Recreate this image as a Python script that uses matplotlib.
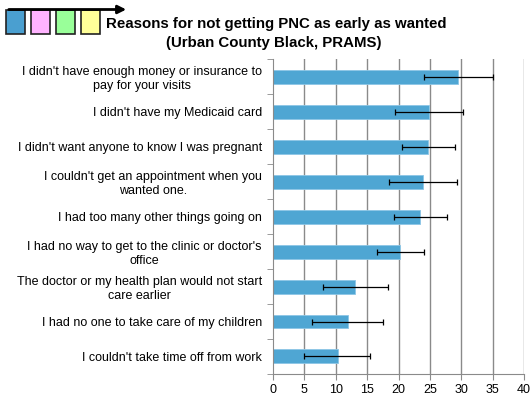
import matplotlib

matplotlib.use("Agg")
import matplotlib.pyplot as plt
from matplotlib.patches import Rectangle, FancyArrowPatch

plt.rcParams["font.family"] = ["Liberation Sans", "DejaVu Sans"]

reasons = [
    "I didn't have enough money or insurance to\npay for your visits",
    "I didn't have my Medicaid card",
    "I didn't want anyone to know I was pregnant",
    "I couldn't get an appointment when you\nwanted one.",
    "I had too many other things going on",
    "I had no way to get to the clinic or doctor's\noffice",
    "The doctor or my health plan would not start\ncare earlier",
    "I had no one to take care of my children",
    "I couldn't take time off from work",
]
percent = [29.5, 24.8, 24.7, 23.9, 23.5, 20.2, 13.1, 11.9, 10.3]
ci_low = [24.1, 19.4, 20.6, 18.5, 19.3, 16.5, 8.0, 6.2, 4.9]
ci_high = [35.0, 30.2, 29.0, 29.3, 27.7, 24.0, 18.3, 17.6, 15.5]

xticks = [0, 5, 10, 15, 20, 25, 30, 35, 40]

fig = plt.figure(figsize=(5.32, 3.97), dpi=100)
ax = fig.add_axes([0.5132, 0.058, 0.4718, 0.793])

pos = list(range(len(reasons)))
err = [
    [p - lo for p, lo in zip(percent, ci_low)],
    [hi - p for p, hi in zip(percent, ci_high)],
]

for x in xticks[1:]:
    ax.axvline(x, color="#8a8a8a", lw=1.0, zorder=0)

ax.barh(pos, percent, height=0.4, color="#4FA6D3", edgecolor="#8CC6E6",
        linewidth=0.6, zorder=2)
ax.errorbar(percent, pos, xerr=err, fmt="none", ecolor="black", elinewidth=0.9,
            capsize=2, capthick=0.9, zorder=3)

ax.set_xlim(0, 40)
ax.set_ylim(len(reasons) - 0.5, -0.5)
ax.set_xticks(xticks)
ax.set_yticks(pos)
ax.set_yticklabels(reasons, fontsize=9.0)
for lab in ax.get_yticklabels():
    lab.set_multialignment("center")
ax.set_yticks([p + 0.5 for p in range(-1, len(reasons))], minor=True)
ax.tick_params(axis="y", which="major", length=0, pad=8)
ax.tick_params(axis="y", which="minor", length=4, color="#8a8a8a")
ax.tick_params(axis="x", length=4, color="#8a8a8a", labelsize=9, pad=3)

for s in ["top", "right"]:
    ax.spines[s].set_visible(False)
ax.spines["left"].set_color("#8a8a8a")
ax.spines["bottom"].set_color("#8a8a8a")

fig.text(276 / 532, 1 - 24 / 397, "Reasons for not getting PNC as early as wanted",
         ha="center", va="center", fontsize=10.8, fontweight="bold")
fig.text(274 / 532, 1 - 43 / 397, "(Urban County Black, PRAMS)",
         ha="center", va="center", fontsize=10.8, fontweight="bold")

# little coloured boxes logo in the corner
box_colors = ["#4A9FD0", "#FFB3FF", "#99FF99", "#FFFF99"]
box_left = [6, 31, 56, 81]
W, H = 532, 397
for c, xl in zip(box_colors, box_left):
    fig.patches.append(Rectangle((xl / W, 1 - 34 / H), 19 / W, 24 / H,
                                 transform=fig.transFigure, facecolor=c,
                                 edgecolor="#222222", linewidth=1.2))
fig.patches.append(FancyArrowPatch((6 / W, 1 - 9.5 / H), (129 / W, 1 - 9.5 / H),
                                   transform=fig.transFigure, arrowstyle="-|>",
                                   mutation_scale=12, color="black", lw=2))

fig.savefig("out.png", dpi=100)
plt.close(fig)
